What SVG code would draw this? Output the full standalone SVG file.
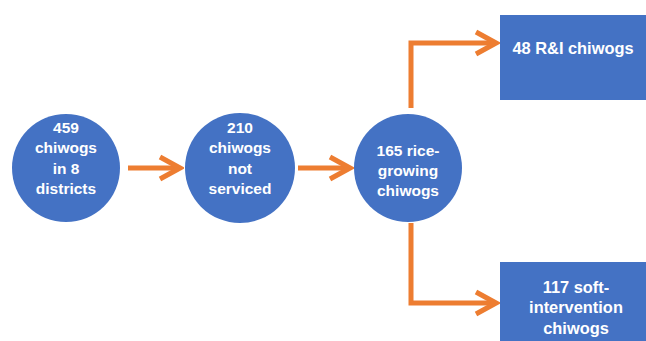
<svg xmlns="http://www.w3.org/2000/svg" width="646" height="341" viewBox="0 0 646 341">
<style>
.node{fill:#4472C4}
.t{font-family:"Liberation Sans",Arial,sans-serif;font-weight:bold;font-size:15.5px;fill:#fff;text-anchor:middle}
.b{font-size:16.4px}
.c{fill:none;stroke:#ED7D31;stroke-width:5}
</style>
<defs>
<marker id="ah" markerUnits="userSpaceOnUse" markerWidth="30" markerHeight="30" viewBox="-26 -15 30 30" refX="0" refY="0" orient="auto">
<path d="M-20,-11 L0,0 L-20,11" fill="none" stroke="#ED7D31" stroke-width="5" stroke-linejoin="miter"/>
</marker>
</defs>
<rect width="646" height="341" fill="#fff"/>
<g id="connectors">
<path class="c" d="M128,168 H180" marker-end="url(#ah)"/>
<path class="c" d="M298,168 H350" marker-end="url(#ah)"/>
<path class="c" d="M411,108 V43 H496" marker-end="url(#ah)"/>
<path class="c" d="M411,223 V303 H496" marker-end="url(#ah)"/>
</g>
<g id="n1">
<circle class="node" cx="66" cy="168" r="54"/>
<text class="t" x="66" y="133">459</text>
<text class="t" x="66" y="153">chiwogs</text>
<text class="t" x="66" y="174">in 8</text>
<text class="t" x="66" y="194">districts</text>
</g>
<g id="n2">
<circle class="node" cx="240" cy="168" r="55"/>
<text class="t" x="240" y="133">210</text>
<text class="t" x="240" y="153">chiwogs</text>
<text class="t" x="240" y="174">not</text>
<text class="t" x="240" y="194">serviced</text>
</g>
<g id="n3">
<circle class="node" cx="408" cy="168" r="54"/>
<text class="t" x="408" y="156">165 rice-</text>
<text class="t" x="408" y="176">growing</text>
<text class="t" x="408" y="196">chiwogs</text>
</g>
<g id="n4">
<rect class="node" x="500" y="15" width="146" height="85"/>
<text class="t b" x="573" y="54">48 R&amp;I chiwogs</text>
</g>
<g id="n5">
<rect class="node" x="500" y="262" width="146" height="79"/>
<text class="t b" x="576" y="293">117 soft-</text>
<text class="t b" x="576" y="313">intervention</text>
<text class="t b" x="576" y="334">chiwogs</text>
</g>
</svg>
